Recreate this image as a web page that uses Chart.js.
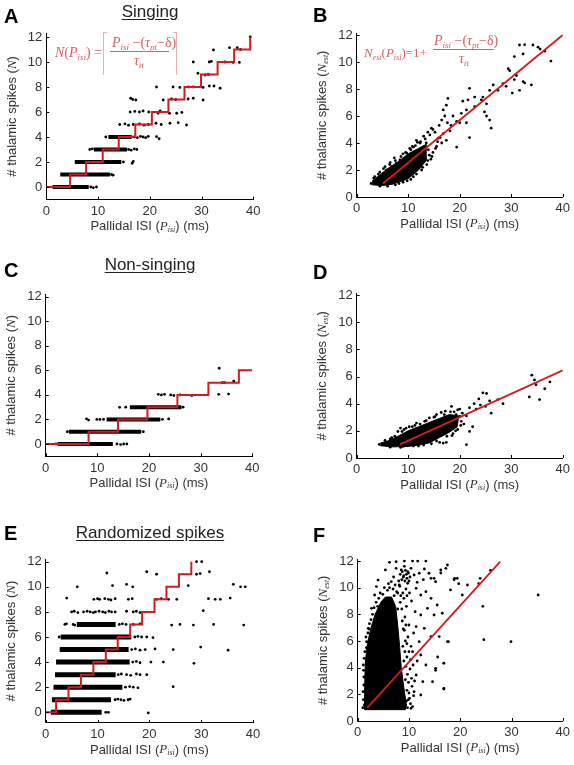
<!DOCTYPE html>
<html>
<head>
<meta charset="utf-8">
<script src="https://cdn.jsdelivr.net/npm/chart.js@4.4.1/dist/chart.umd.min.js"></script>
<style>
  html, body { margin: 0; padding: 0; background: #fff; }
  body { width: 574px; height: 765px; position: relative; overflow: hidden; font-family: 'Liberation Sans', Arial, sans-serif; }
  canvas { position: absolute; }
  .letter { position: absolute; font-weight: bold; font-size: 20px; line-height: 20px; color: #000; }
  .heading { position: absolute; font-size: 17px; line-height: 20px; color: #222; text-decoration: underline; text-underline-offset: 2px; transform: translateX(-50%); white-space: nowrap; }
</style>
</head>
<body>
<canvas id="chartA" width="287" height="242" style="left:0px;top:0px"></canvas>
<canvas id="chartB" width="287" height="242" style="left:287px;top:0px"></canvas>
<canvas id="chartC" width="287" height="250" style="left:0px;top:242px"></canvas>
<canvas id="chartD" width="287" height="250" style="left:287px;top:242px"></canvas>
<canvas id="chartE" width="287" height="273" style="left:0px;top:492px"></canvas>
<canvas id="chartF" width="287" height="273" style="left:287px;top:492px"></canvas>

<div class="letter" style="left:4px;top:6px">A</div>
<div class="letter" style="left:313px;top:5px">B</div>
<div class="letter" style="left:4px;top:260px">C</div>
<div class="letter" style="left:313px;top:262px">D</div>
<div class="letter" style="left:4px;top:523px">E</div>
<div class="letter" style="left:313px;top:525px">F</div>
<div class="heading" style="left:150px;top:2px">Singing</div>
<div class="heading" style="left:150px;top:255px">Non-singing</div>
<div class="heading" style="left:150px;top:523px">Randomized spikes</div>

<script>
// Axis ticks shared by all panels
const xTicks = [0, 10, 20, 30, 40];
const yTicks = [0, 2, 4, 6, 8, 10, 12];

// A - singing: step fit, dense bands per spike count, scattered ISIs
const stepXA = [0, 4.6, 7.7, 10.9, 14.0, 17.2, 20.4, 23.6, 26.7, 29.9, 33.1, 36.3, 39.4];
const stepYA = [0, 1, 2, 3, 4, 5, 6, 7, 8, 9, 10, 11, 12];
const bandLoA = [1.2, 2.7, 5.5, 9.2, 12.0];
const bandHiA = [8.2, 12.3, 14.5, 15.6, 16.5];
const scatterA = [
  [8.6, 0], [9.1, -0.05], [9.7, 0], [12.6, 1], [12.9, 0.95], [14.9, 2], [16.6, 1.9], [16.8, 2.05],
  [8.4, 3], [8.9, 3.05], [15.9, 3], [16.4, 2.95], [17.0, 3.05], [17.5, 3],
  [11.5, 4], [17.0, 4], [17.6, 3.95], [18.2, 4.05], [18.7, 4], [19.2, 3.95], [19.7, 4.05], [21.3, 4.03], [21.8, 3.86],
  [14.2, 5], [15.2, 5.05], [15.9, 4.95], [16.8, 5], [18.0, 5.05], [18.9, 4.95], [19.7, 5], [21.2, 5.1], [22.2, 5.0],
  [23.9, 5.1], [25.5, 5.15], [27.1, 4.96],
  [16.2, 6], [17.1, 6.05], [18.0, 6], [18.7, 6.08], [19.8, 6], [21.6, 5.9], [22.0, 6.08], [23.8, 5.9], [25.2, 5.9], [26.2, 5.97],
  [16.3, 7.1], [16.7, 7.0], [17.3, 6.96], [22.6, 6.96], [24.2, 7.04], [25.0, 7.0], [27.4, 7.04], [28.4, 7.1], [30.3, 6.96],
  [21.3, 8.0], [24.5, 8.0], [25.8, 7.97], [27.5, 8.0], [28.4, 8.0], [30.3, 7.97], [31.5, 8.08], [32.4, 8.08], [33.6, 7.9],
  [29.3, 9.1], [30.7, 8.96], [31.3, 9.0],
  [28.4, 10.0], [31.5, 10.0], [31.9, 10.05], [34.5, 10.0], [36.1, 9.97], [37.3, 9.97],
  [32.3, 10.96], [35.4, 11.15], [36.9, 11.15], [37.5, 11.0], [39.4, 12.0]
];

// B - singing: linear estimate and cloud
const fitXB = [5.1, 40];
const fitYB = [1, 12];
const cloudXB = [3.0, 5.0, 7.0, 10.0, 12.0, 13.5, 13.5, 12.0, 10.0, 8.0, 6.0, 4.0, 3.0];
const cloudYB = [0.9, 0.85, 0.95, 1.35, 2.0, 2.7, 3.9, 3.6, 3.2, 2.6, 2.1, 1.5, 1.2];
const scatterB = [
  [2.8, 1.0], [3.3, 1.4], [4.2, 1.7], [5.2, 2.1], [5.8, 2.0], [6.4, 2.4], [6.8, 2.27], [7.5, 2.7], [7.7, 2.5], [8.4, 2.75],
  [8.6, 3.0], [9.5, 3.3], [9.7, 3.25], [10.3, 3.6], [10.5, 3.5], [11.0, 3.7], [11.4, 3.8], [11.6, 4.2], [12.3, 4.0], [12.4, 4.1],
  [12.9, 3.7], [13.3, 4.3], [13.5, 4.0], [14.2, 4.6], [14.5, 5.1], [14.8, 5.0], [15.5, 3.75], [15.8, 4.36], [16.5, 4.0], [16.8, 4.7],
  [17.4, 4.2], [18.1, 4.9], [16.5, 5.7], [17.1, 6.0], [16.8, 6.45], [17.4, 6.8], [17.7, 7.3], [18.7, 6.0], [19.4, 5.6], [20.0, 5.5],
  [20.3, 6.2], [20.6, 7.1], [21.3, 6.45], [21.3, 5.5], [21.9, 4.4], [21.6, 7.2], [21.9, 8.05], [22.9, 7.4], [22.9, 6.7], [24.2, 7.2],
  [24.5, 7.4], [24.8, 6.3], [25.2, 6.9], [25.2, 6.0], [25.8, 5.7], [26.1, 5.1], [25.8, 7.9], [26.5, 8.3], [27.4, 7.9], [28.4, 8.4],
  [29.0, 8.2], [30.2, 7.7], [31.6, 7.9], [29.4, 9.5], [29.7, 9.36], [30.6, 8.7], [31.0, 9.0], [32.3, 8.55], [32.6, 8.45], [33.9, 8.3],
  [30.6, 10.4], [31.6, 11.26], [32.3, 10.6], [32.6, 11.28], [34.2, 11.26], [35.2, 11.1], [35.6, 10.96], [36.5, 10.8], [37.7, 10.07],
  [6.0, 0.8], [8.2, 1.0], [9.8, 1.2], [11.0, 1.5], [12.6, 2.0], [13.6, 2.4], [14.4, 2.8], [14.8, 3.3], [15.3, 3.6], [15.7, 4.1],
  [16.2, 4.4], [19.4, 3.7], [18.3, 5.3], [17.6, 5.5], [16.0, 5.3], [15.2, 4.8], [13.9, 3.5], [14.1, 3.1], [12.9, 2.6], [11.8, 3.0],
  [3.5, 1.5], [4.5, 1.85], [5.5, 2.25], [6.5, 2.55], [7.3, 2.9], [9.0, 3.2], [10.8, 3.75], [11.8, 4.05], [13.0, 4.5], [13.8, 4.8],
  [4.5, 0.8], [7.5, 0.9], [9.0, 1.1], [10.5, 1.3], [11.6, 1.7], [12.8, 2.2], [13.8, 2.7], [14.6, 3.0]
];

// C - non-singing
const stepXC = [0, 8.3, 14.0, 19.7, 25.5, 31.5, 37.4, 40];
const stepYC = [0, 1, 2, 3, 4, 5, 6, 6];
const bandLoC = [2.3, 4.5, 11.8, 16.3];
const bandHiC = [13.0, 18.5, 22.2, 26.3];
const scatterC = [
  [2.0, 0], [13.8, 0], [14.5, -0.05], [15.1, 0], [15.7, 0],
  [4.2, 1.0], [18.9, 1],
  [7.9, 2.05], [8.3, 1.95], [9.9, 2.0], [10.5, 2.0], [11.2, 2.0], [22.6, 2.0], [23.8, 2.04],
  [14.3, 2.99], [15.5, 3.0], [26.6, 3.0],
  [21.8, 4.05], [22.4, 4.0], [23.0, 4.05], [24.2, 4.0], [24.8, 3.95], [26.0, 4.0], [28.3, 3.95],
  [33.5, 4.05], [35.4, 4.07], [34.2, 5.0], [34.6, 5.0], [36.4, 5.13], [33.6, 6.17]
];

// D - non-singing: linear estimate and cloud
const fitXD = [8.4, 40];
const fitYD = [1, 6.45];
const cloudXD = [4.6, 7.0, 10.0, 12.0, 14.0, 16.0, 18.0, 19.5, 19.8, 18.0, 16.0, 14.0, 12.0, 10.0, 8.0, 6.0, 4.6];
const cloudYD = [0.9, 0.82, 0.85, 0.95, 1.1, 1.5, 1.9, 2.3, 3.1, 3.2, 2.9, 2.6, 2.3, 2.0, 1.6, 1.25, 1.1];
const scatterD = [
  [4.4, 1.0], [5.2, 1.0], [5.8, 0.95], [6.5, 1.4], [7.4, 1.6], [8.5, 2.2], [9.2, 2.1], [10.2, 2.3], [10.8, 2.3], [11.6, 2.57],
  [12.3, 2.5], [13.2, 2.7], [14.1, 2.95], [15.0, 3.0], [15.5, 3.2], [16.4, 3.35], [17.2, 3.45], [18.4, 3.8], [18.9, 3.4], [19.6, 3.55],
  [20.0, 3.06], [20.5, 3.3], [21.3, 3.1], [21.9, 3.7], [22.8, 4.0], [23.2, 3.6], [23.7, 4.35], [24.0, 3.9], [24.5, 4.8], [25.0, 3.8],
  [25.2, 4.75], [25.8, 4.2], [26.1, 3.3], [27.4, 4.3], [28.4, 4.0], [21.3, 0.98], [21.9, 1.96], [22.5, 2.3], [20.8, 2.5], [20.2, 2.4],
  [19.2, 2.0], [18.7, 1.8], [16.1, 1.15], [16.8, 1.1], [17.4, 1.15], [13.0, 0.95], [11.0, 0.88], [9.0, 0.85], [8.0, 1.95],
  [33.5, 4.5], [34.0, 6.1], [34.5, 5.75], [34.8, 5.4], [35.5, 4.3], [36.5, 5.1], [37.5, 5.6],
  [5.5, 1.3], [6.8, 1.5], [8.8, 1.95], [9.6, 2.2], [11.3, 2.4], [13.5, 2.75], [15.2, 3.05], [17.0, 3.2], [18.2, 3.4],
  [6.5, 0.8], [8.5, 0.78], [12.0, 0.88], [14.5, 1.05], [15.5, 1.25], [17.5, 1.6], [18.5, 1.65], [19.6, 2.1], [20.3, 2.7],
  [20.0, 3.6], [19.3, 3.2]
];

// E - randomized spikes
const stepXE = [0, 2.0, 4.4, 6.8, 9.2, 11.6, 13.9, 16.3, 18.6, 21.0, 23.3, 25.7, 28.1];
const stepYE = [0, 1, 2, 3, 4, 5, 6, 7, 8, 9, 10, 11, 12];
const bandLoE = [1.0, 1.2, 1.5, 1.8, 2.0, 2.7, 2.9, 6.0];
const bandHiE = [10.8, 12.6, 14.8, 13.5, 16.2, 16.0, 16.5, 13.5];
const scatterE = [
  [11.6, 0], [12.1, 0], [19.8, -0.05],
  [13.4, 1], [13.9, 1.05], [14.5, 1], [15.1, 0.95], [15.9, 1], [16.3, 1.05],
  [15.4, 2], [16.2, 2.05], [16.9, 2], [17.8, 1.95], [24.6, 2.04],
  [14.0, 3], [14.6, 3.05], [15.6, 3], [16.4, 2.95], [17.5, 3.05], [18.2, 3], [19.5, 3.0],
  [16.8, 4], [17.5, 4.05], [18.2, 3.95], [20.3, 4.0], [22.7, 4.0], [28.6, 3.9],
  [16.6, 5], [17.3, 5.05], [18.2, 4.95], [19.2, 5], [21.1, 5.05], [24.6, 5.0], [29.9, 5.2], [35.2, 4.95],
  [2.6, 6.0], [17.2, 6], [17.8, 6.05], [18.5, 6], [19.5, 6.0], [20.7, 5.95],
  [3.7, 7.0], [4.0, 7.05], [5.3, 7.0], [5.6, 6.95], [14.2, 7], [14.8, 7.05], [15.5, 7], [16.9, 7.0], [18.2, 7.05],
  [24.3, 6.95], [25.9, 7.0], [28.5, 6.95], [32.4, 7.0], [38.2, 6.95],
  [5.0, 8.0], [5.5, 8.05], [6.2, 7.95], [7.3, 8.0], [8.0, 8.05], [8.6, 8.0], [9.2, 7.95], [9.6, 8.0], [10.3, 8.05], [11.0, 8.0],
  [11.5, 7.95], [12.2, 8.05], [12.7, 8.0], [13.4, 8.0], [15.6, 8.05], [16.9, 8.0], [17.5, 8.05], [18.2, 7.95], [30.4, 8.1],
  [4.05, 9.1], [9.3, 9.0], [10.0, 9.05], [10.4, 9.0], [11.4, 9.05], [12.1, 9.0], [12.6, 8.95], [13.4, 9.05], [15.95, 9.0], [16.7, 9.05],
  [21.4, 9.0], [22.3, 9.05], [23.7, 9.0], [25.3, 9.0], [31.4, 9.05], [32.7, 9.0], [33.7, 9.0], [35.6, 9.1],
  [6.1, 10.0], [12.9, 10.1], [15.6, 10.2], [16.8, 10.0], [27.5, 10.1], [36.2, 10.2], [37.6, 10.0], [38.5, 10.0],
  [11.8, 11.1], [19.5, 11.2], [21.4, 11.0], [29.1, 11.0], [29.8, 11.05], [31.6, 11.2],
  [29.1, 12.0], [30.1, 12.0]
];

// F - randomized spikes: linear estimate and cloud
const fitXF = [1.9, 27.8];
const fitYF = [1, 11.95];
const cloudXF = [1.3, 1.35, 1.5, 1.9, 2.6, 3.4, 4.5, 5.4, 6.6, 7.4, 7.8, 8.2, 8.5, 9.0, 9.5, 9.3, 1.3];
const cloudYF = [0.85, 2.5, 4.5, 5.8, 7.0, 8.0, 8.9, 9.3, 9.3, 8.6, 7.2, 5.5, 4.0, 2.5, 1.2, 0.85, 0.85];
const scatterF = [
  [6.2, 11.9], [7.5, 11.95], [9.1, 12.0], [10.7, 12.0], [11.7, 12.0], [13.3, 12.0],
  [5.4, 11.33], [7.5, 11.45], [8.5, 11.33], [9.1, 11.6], [9.75, 11.2], [10.4, 11.45], [11.0, 10.95], [12.0, 11.08], [13.0, 11.4],
  [13.9, 11.08], [14.9, 10.7], [16.2, 11.33], [17.5, 11.7], [18.8, 10.6], [19.4, 10.7], [18.1, 9.83],
  [3.65, 10.08], [6.55, 10.45], [8.1, 10.2], [9.75, 10.33], [11.4, 9.95], [12.3, 9.45], [13.3, 9.7], [14.3, 9.2], [15.5, 8.7],
  [16.5, 8.08], [14.9, 7.95], [13.6, 8.45], [12.3, 7.95], [11.4, 7.08], [13.0, 6.95], [14.3, 6.33], [15.9, 6.33], [17.5, 5.95],
  [12.0, 5.95], [10.7, 5.2], [12.3, 4.95], [13.3, 4.2], [15.2, 3.95], [16.8, 4.33], [11.4, 3.45], [12.7, 2.95], [11.0, 2.2],
  [10.1, 1.7], [12.3, 1.95], [16.8, 2.45], [10.7, 1.08], [3.3, 9.45], [3.98, 10.57], [2.7, 8.45], [2.05, 6.95], [1.73, 5.95],
  [1.1, 4.2], [1.2, 2.7], [1.3, 1.2],
  [9.2, 7.8], [9.5, 8.6], [10.0, 7.2], [9.8, 6.3], [10.4, 5.6], [9.6, 4.8], [10.2, 3.9], [9.9, 2.9], [10.6, 2.6], [8.8, 9.6],
  [9.4, 9.9], [8.2, 10.1], [7.6, 9.7], [10.5, 9.0], [11.2, 8.2], [10.9, 6.6], [11.6, 4.5], [10.8, 4.2], [9.7, 1.0], [10.3, 1.3],
  [8.9, 6.9], [8.6, 8.4], [5.8, 9.8], [4.9, 9.5], [4.1, 9.2], [3.2, 8.5], [2.6, 7.6], [2.0, 6.6], [1.4, 5.2], [1.2, 3.3], [1.1, 1.6],
  [7.0, 10.8], [6.0, 10.3], [8.9, 10.8], [9.6, 10.7], [10.2, 10.8], [11.6, 10.4], [12.8, 10.6],
  [8.3, 11.0], [8.7, 11.2], [9.0, 10.9], [9.3, 11.3], [9.5, 11.0], [9.9, 11.1], [8.6, 10.6], [9.2, 10.5], [10.0, 10.5], [8.0, 10.5],
  [7.3, 10.2], [6.9, 9.9], [7.8, 9.6], [8.4, 9.4], [9.0, 9.2], [9.6, 9.4], [10.1, 9.6], [7.1, 9.4],
  [8.7, 7.5], [9.1, 6.8], [9.3, 6.0], [8.8, 5.6], [9.2, 5.2], [9.0, 4.5], [9.4, 4.1], [9.7, 3.5], [9.3, 3.1], [9.6, 2.3],
  [10.0, 2.1], [9.9, 1.6], [9.5, 1.5], [8.9, 0.95], [10.4, 0.95], [10.9, 1.9], [10.5, 3.2], [11.1, 3.0], [10.3, 4.6], [10.0, 5.2],
  [9.6, 5.8], [9.4, 7.2], [8.3, 8.9], [7.8, 8.4],
  [1.0, 1.0], [1.05, 2.2], [1.15, 3.8], [1.25, 4.7], [1.6, 6.3], [2.3, 7.3], [2.9, 8.0], [3.6, 8.9], [4.4, 9.6], [5.2, 10.0],
  [6.2, 10.0], [3.9, 8.6], [1.7, 5.5], [2.2, 6.9],
  [24.4, 8.6], [24.6, 6.1], [29.9, 5.95], [35.2, 9.45], [17.7, 5.95], [16.8, 2.4], [15.6, 4.8], [15.2, 3.8], [14.6, 2.95],
  [23.6, 10.3], [23.9, 10.7], [25.9, 11.3], [21.4, 10.2], [20.4, 9.45], [19.7, 10.3], [18.9, 10.7], [17.2, 11.45], [16.2, 11.1],
  [15.2, 10.45], [14.3, 10.7]
];

const SANS = "'Liberation Sans', Arial, Helvetica, sans-serif";
const SERIF = "'Liberation Serif', 'Times New Roman', serif";
const INK = '#333';
const RED = '#d01c1c';
const PINK = 'rgb(214, 96, 96)';

function toPoints(xs, ys) {
  return xs.map((x, i) => ({ x: x, y: ys[i] }));
}

// draw a run of differently styled text pieces: [text, font, dy]
function drawRuns(ctx, runs, x, y, measureOnly) {
  let cx = x;
  runs.forEach(r => {
    ctx.font = r[1];
    if (!measureOnly) ctx.fillText(r[0], cx, y + (r[2] || 0));
    cx += ctx.measureText(r[0]).width;
  });
  return cx - x;
}

const titleFont = '13px ' + SANS;
const titleIt = 'italic 13px ' + SERIF;
const titleSub = 'italic 8px ' + SERIF;

function xTitleRuns() {
  return [['Pallidal ISI (', titleFont], ['P', titleIt], ['isi', titleSub, 3], [') (ms)', titleFont]];
}
function yTitleRuns(est) {
  const r = [['# thalamic spikes (', titleFont], ['N', titleIt]];
  if (est) r.push(['est', titleSub, 3]);
  r.push([')', titleFont]);
  return r;
}

const fIt = 'italic 14px ' + SERIF;
const fRm = '14px ' + SERIF;
const fSub = 'italic 9px ' + SERIF;
const fIt13 = 'italic 13px ' + SERIF;
const fRm13 = '13px ' + SERIF;
const fSub8 = 'italic 8px ' + SERIF;

function numeratorRuns() {
  return [['P', fIt], ['isi', fSub, 3], [' \u2212(', fRm], ['\u03c4', fIt], ['pt', fSub, 3], ['\u2212\u03b4)', fRm]];
}

function drawCeilFormula(ctx) {
  ctx.fillStyle = PINK;
  ctx.strokeStyle = PINK;
  ctx.textBaseline = 'alphabetic';
  drawRuns(ctx, [['N', fIt], ['(', fRm], ['P', fIt], ['isi', fSub, 3], [')', fRm], [' =', fRm]], 55, 57);
  drawRuns(ctx, numeratorRuns(), 112, 47);
  ctx.lineWidth = 1;
  ctx.beginPath();
  ctx.moveTo(110, 51.5); ctx.lineTo(169, 51.5);
  ctx.stroke();
  const w = drawRuns(ctx, [['\u03c4', fIt], ['tt', fSub, 3]], 0, 0, true);
  drawRuns(ctx, [['\u03c4', fIt], ['tt', fSub, 3]], 139 - w / 2, 65);
  ctx.strokeStyle = 'rgba(214, 96, 96, 0.5)';
  ctx.beginPath();
  ctx.moveTo(107, 32.5); ctx.lineTo(103.5, 32.5); ctx.lineTo(103.5, 75);
  ctx.moveTo(173, 32.5); ctx.lineTo(176.5, 32.5); ctx.lineTo(176.5, 75);
  ctx.stroke();
}

function drawLinFormula(ctx) {
  ctx.fillStyle = PINK;
  ctx.strokeStyle = PINK;
  ctx.textBaseline = 'alphabetic';
  drawRuns(ctx, [['N', fIt13], ['est', fSub8, 3], ['(', fRm13], ['P', fIt13], ['isi', fSub8, 3], [')=1+', fRm13]], 77, 57);
  drawRuns(ctx, numeratorRuns(), 147, 45);
  ctx.lineWidth = 1;
  ctx.beginPath();
  ctx.moveTo(146, 49.5); ctx.lineTo(207, 49.5);
  ctx.stroke();
  const w = drawRuns(ctx, [['\u03c4', fIt], ['tt', fSub, 3]], 0, 0, true);
  drawRuns(ctx, [['\u03c4', fIt], ['tt', fSub, 3]], 177 - w / 2, 63);
}

function makeDecor(est, formula) {
  return {
    id: 'decor',
    afterDraw(chart) {
      const { ctx, chartArea: a, scales: { x, y } } = chart;
      ctx.save();
      // inward tick marks
      ctx.strokeStyle = '#000';
      ctx.lineWidth = 1;
      ctx.beginPath();
      xTicks.forEach(v => {
        const px = Math.round(x.getPixelForValue(v)) + 0.5;
        ctx.moveTo(px, a.bottom); ctx.lineTo(px, a.bottom - 3);
      });
      yTicks.forEach(v => {
        const py = Math.round(y.getPixelForValue(v)) + 0.5;
        ctx.moveTo(a.left, py); ctx.lineTo(a.left + 3, py);
      });
      ctx.stroke();

      // axis titles
      ctx.fillStyle = INK;
      ctx.textBaseline = 'middle';
      const xr = xTitleRuns();
      const xw = drawRuns(ctx, xr, 0, 0, true);
      drawRuns(ctx, xr, (a.left + a.right) / 2 - xw / 2, a.bottom + 27);

      const yr = yTitleRuns(est);
      const yw = drawRuns(ctx, yr, 0, 0, true);
      ctx.translate(a.left - 34, (a.top + a.bottom) / 2);
      ctx.rotate(-Math.PI / 2);
      drawRuns(ctx, yr, -yw / 2, 0);
      ctx.setTransform(1, 0, 0, 1, 0, 0);

      if (formula === 'ceil') drawCeilFormula(ctx);
      if (formula === 'lin') drawLinFormula(ctx);
      ctx.restore();
    }
  };
}

function bandSets(lo, hi, width) {
  return lo.map((a, k) => ({
    data: [{ x: a, y: k }, { x: hi[k], y: k }],
    showLine: true,
    borderColor: '#000',
    borderWidth: width,
    pointRadius: 0,
    order: 3
  }));
}

function cloudSet(xs, ys) {
  return {
    data: toPoints(xs, ys),
    showLine: true,
    fill: 'shape',
    backgroundColor: '#000',
    borderColor: '#000',
    borderWidth: 1,
    pointRadius: 0,
    order: 3
  };
}

function dotSet(pairs) {
  return {
    data: pairs.map(p => ({ x: p[0], y: p[1] })),
    showLine: false,
    pointRadius: 1.4,
    pointBackgroundColor: '#000',
    pointBorderWidth: 0,
    order: 2
  };
}

function redLine(xs, ys, stepped) {
  return {
    data: toPoints(xs, ys),
    showLine: true,
    stepped: stepped ? 'before' : false,
    borderColor: RED,
    borderWidth: stepped ? 2 : 1.8,
    pointRadius: 0,
    order: 0
  };
}

// cv: canvas box on the page, cal: pixel positions of x=0, x=40, y=0, y=12
function makePanel(id, cv, cal, yMin, yMax, datasets, est, formula) {
  const s = (cal.y0 - cal.y12) / 12;
  const area = { left: cal.x0, right: cal.x40, top: cal.y0 - yMax * s, bottom: cal.y0 - yMin * s };
  const yW = 30, xH = 22;
  const tickFont = { family: SANS, size: 13 };
  new Chart(document.getElementById(id), {
    type: 'scatter',
    data: { datasets: datasets },
    options: {
      responsive: false,
      animation: false,
      events: [],
      layout: {
        padding: {
          left: area.left - cv.left - yW,
          right: cv.left + cv.w - area.right,
          top: area.top - cv.top,
          bottom: cv.top + cv.h - area.bottom - xH
        }
      },
      plugins: { legend: { display: false }, tooltip: { enabled: false } },
      scales: {
        x: {
          type: 'linear', min: 0, max: 40,
          grid: { display: false, drawTicks: false },
          border: { display: true, color: '#000', width: 1 },
          ticks: { font: tickFont, color: INK, padding: 4, maxRotation: 0 },
          afterBuildTicks: sc => { sc.ticks = xTicks.map(v => ({ value: v })); },
          afterFit: sc => { sc.height = xH; }
        },
        y: {
          type: 'linear', min: yMin, max: yMax,
          grid: { display: false, drawTicks: false },
          border: { display: true, color: '#000', width: 1 },
          ticks: { font: tickFont, color: INK, padding: 4 },
          afterBuildTicks: sc => { sc.ticks = yTicks.map(v => ({ value: v })); },
          afterFit: sc => { sc.width = yW; }
        }
      }
    },
    plugins: [makeDecor(est, formula)]
  });
}

makePanel('chartA', { left: 0, top: 0, w: 287, h: 242 }, { x0: 46.3, x40: 253.3, y0: 187, y12: 37 }, -1, 12.3,
  [redLine(stepXA, stepYA, true), dotSet(scatterA)].concat(bandSets(bandLoA, bandHiA, 4)), false, 'ceil');

makePanel('chartB', { left: 287, top: 0, w: 287, h: 242 }, { x0: 356.7, x40: 563, y0: 197, y12: 35 }, 0, 12.1,
  [redLine(fitXB, fitYB, false), dotSet(scatterB), cloudSet(cloudXB, cloudYB)], true, 'lin');

makePanel('chartC', { left: 0, top: 242, w: 287, h: 250 }, { x0: 45.7, x40: 252.3, y0: 444, y12: 296.7 }, -1, 12.2,
  [redLine(stepXC, stepYC, true), dotSet(scatterC)].concat(bandSets(bandLoC, bandHiC, 4)), false, null);

makePanel('chartD', { left: 287, top: 242, w: 287, h: 250 }, { x0: 356.7, x40: 563, y0: 458, y12: 295 }, 0, 12.1,
  [redLine(fitXD, fitYD, false), dotSet(scatterD), cloudSet(cloudXD, cloudYD)], true, null);

makePanel('chartE', { left: 0, top: 492, w: 287, h: 273 }, { x0: 45.7, x40: 253, y0: 712.3, y12: 561.7 }, -0.85, 12.2,
  [redLine(stepXE, stepYE, true), dotSet(scatterE)].concat(bandSets(bandLoE, bandHiE, 5)), false, null);

makePanel('chartF', { left: 287, top: 492, w: 287, h: 273 }, { x0: 357.7, x40: 565, y0: 721, y12: 561 }, 0, 12.1,
  [redLine(fitXF, fitYF, false), dotSet(scatterF), cloudSet(cloudXF, cloudYF)], true, null);
</script>
</body>
</html>
